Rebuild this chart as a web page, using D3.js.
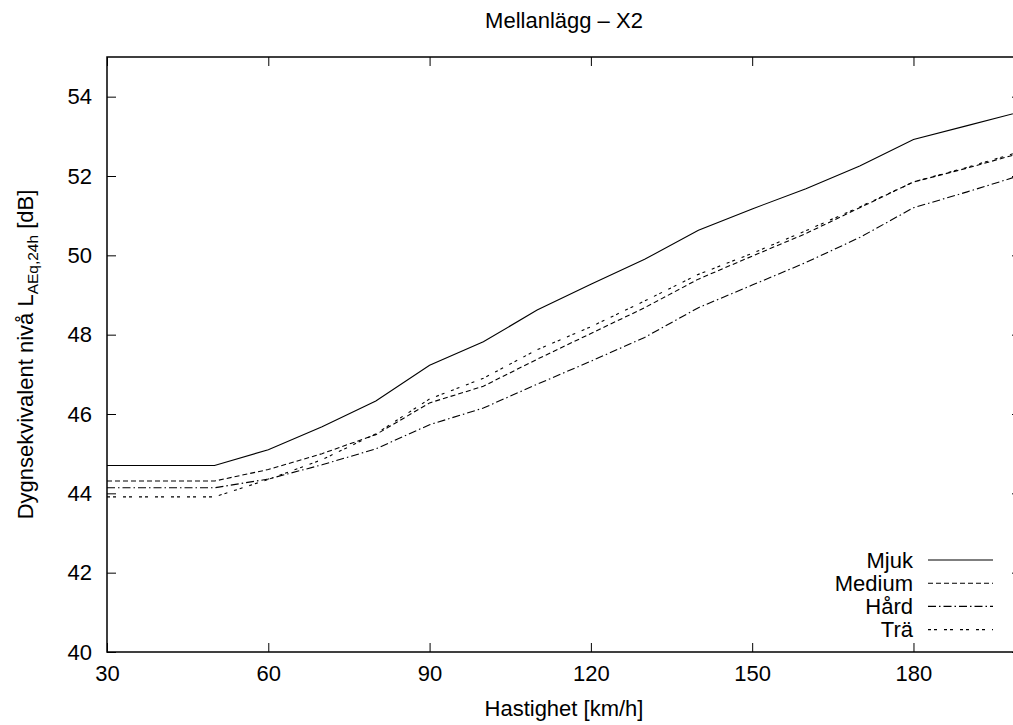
<!DOCTYPE html>
<html>
<head>
<meta charset="utf-8">
<script src="https://cdn.jsdelivr.net/npm/d3@7"></script>
<style>
  html, body { margin: 0; padding: 0; background: #fff; }
  svg { display: block; font-family: "Liberation Sans", Arial, Helvetica, sans-serif; }
</style>
</head>
<body>
<svg id="chart" width="1013" height="725"></svg>
<script>
const speeds = [30, 40, 50, 60, 70, 80, 90, 100, 110, 120, 130, 140, 150, 160, 170, 180, 190, 200];
const mjuk   = [44.70, 44.70, 44.70, 45.10, 45.68, 46.33, 47.23, 47.82, 48.62, 49.27, 49.90, 50.63, 51.17, 51.68, 52.25, 52.92, 53.27, 53.62];
const medium = [44.31, 44.31, 44.31, 44.60, 45.00, 45.48, 46.28, 46.70, 47.38, 48.03, 48.68, 49.40, 49.98, 50.55, 51.20, 51.85, 52.20, 52.58];
const hard   = [44.14, 44.14, 44.14, 44.36, 44.72, 45.12, 45.73, 46.15, 46.75, 47.33, 47.93, 48.68, 49.25, 49.82, 50.45, 51.20, 51.60, 52.02];
const tra    = [43.91, 43.91, 43.91, 44.35, 44.85, 45.50, 46.38, 46.90, 47.62, 48.20, 48.85, 49.52, 50.05, 50.62, 51.22, 51.85, 52.22, 52.62];
const seriesNames = ["Mjuk", "Medium", "Hård", "Trä"];
const xTicks = [30, 60, 90, 120, 150, 180];
const yTicks = [40, 42, 44, 46, 48, 50, 52, 54];
const titleText = "Mellanlägg – X2";
const xLabel = "Hastighet [km/h]";

const seriesValues = [mjuk, medium, hard, tra];
const dashes = [null, "5,3", "8,3,1.5,3", "3,3,3,7"];

const svg = d3.select("#chart");
const pL = 107, pR = 1021, pT = 57, pB = 652;
const x = d3.scaleLinear().domain([30, 200]).range([pL, pR]);
const y = d3.scaleLinear().domain([40, 55]).range([pB, pT]);
const fs = 22;

svg.append("defs").append("clipPath").attr("id", "clip")
  .append("rect").attr("x", pL).attr("y", pT).attr("width", pR - pL).attr("height", pB - pT);

function styleAxis(g, showLabels) {
  g.select(".domain").remove();
  g.selectAll(".tick line").attr("stroke", "#000").attr("stroke-width", 1);
  g.selectAll(".tick text").attr("fill", "#000").style("font-size", fs + "px");
  if (!showLabels) g.selectAll(".tick text").remove();
}

svg.append("g").attr("transform", `translate(0,${pB})`)
  .call(d3.axisBottom(x).tickValues(xTicks).tickSizeInner(-9).tickSizeOuter(0).tickPadding(13).tickFormat(d3.format("d")))
  .call(g => styleAxis(g, true));
svg.append("g").attr("transform", `translate(0,${pT})`)
  .call(d3.axisTop(x).tickValues(xTicks).tickSizeInner(-9).tickSizeOuter(0))
  .call(g => styleAxis(g, false));
svg.append("g").attr("transform", `translate(${pL},0)`)
  .call(d3.axisLeft(y).tickValues(yTicks).tickSizeInner(-9).tickSizeOuter(0).tickPadding(15).tickFormat(d3.format("d")))
  .call(g => styleAxis(g, true));
svg.append("g").attr("transform", `translate(${pR},0)`)
  .call(d3.axisRight(y).tickValues(yTicks).tickSizeInner(-9).tickSizeOuter(0))
  .call(g => styleAxis(g, false));

svg.append("rect").attr("x", pL).attr("y", pT).attr("width", pR - pL).attr("height", pB - pT)
  .attr("fill", "none").attr("stroke", "#000").attr("stroke-width", 1.5);

const line = d3.line().x((d, i) => x(speeds[i])).y(d => y(d));
const plot = svg.append("g").attr("clip-path", "url(#clip)");
seriesValues.forEach((vals, i) => {
  plot.append("path").datum(vals).attr("d", line)
    .attr("fill", "none").attr("stroke", "#000").attr("stroke-width", 1.1)
    .attr("stroke-dasharray", dashes[i]);
});

// legend
const lg = svg.append("g");
seriesNames.forEach((name, i) => {
  const ly = 560 + i * 23.2;
  lg.append("text").attr("x", 913).attr("y", ly + 7.5).attr("text-anchor", "end")
    .style("font-size", fs + "px").attr("fill", "#000").text(name);
  lg.append("line").attr("x1", 928).attr("x2", 993).attr("y1", ly).attr("y2", ly)
    .attr("stroke", "#000").attr("stroke-width", 1.1).attr("stroke-dasharray", dashes[i]);
});

// title
svg.append("text").attr("x", (pL + pR) / 2).attr("y", 28).attr("text-anchor", "middle")
  .style("font-size", fs + "px").attr("fill", "#000").text(titleText);

// x label
svg.append("text").attr("x", (pL + pR) / 2).attr("y", 716).attr("text-anchor", "middle")
  .style("font-size", fs + "px").attr("fill", "#000").text(xLabel);

// y label
const yl = svg.append("text").attr("transform", `translate(33,${(pT + pB) / 2}) rotate(-90)`)
  .attr("text-anchor", "middle").style("font-size", fs + "px").attr("fill", "#000");
yl.append("tspan").text("Dygnsekvivalent nivå L");
yl.append("tspan").attr("dy", 5).style("font-size", "15.5px").text("AEq,24h");
yl.append("tspan").attr("dy", -5).text(" [dB]");
</script>
</body>
</html>
